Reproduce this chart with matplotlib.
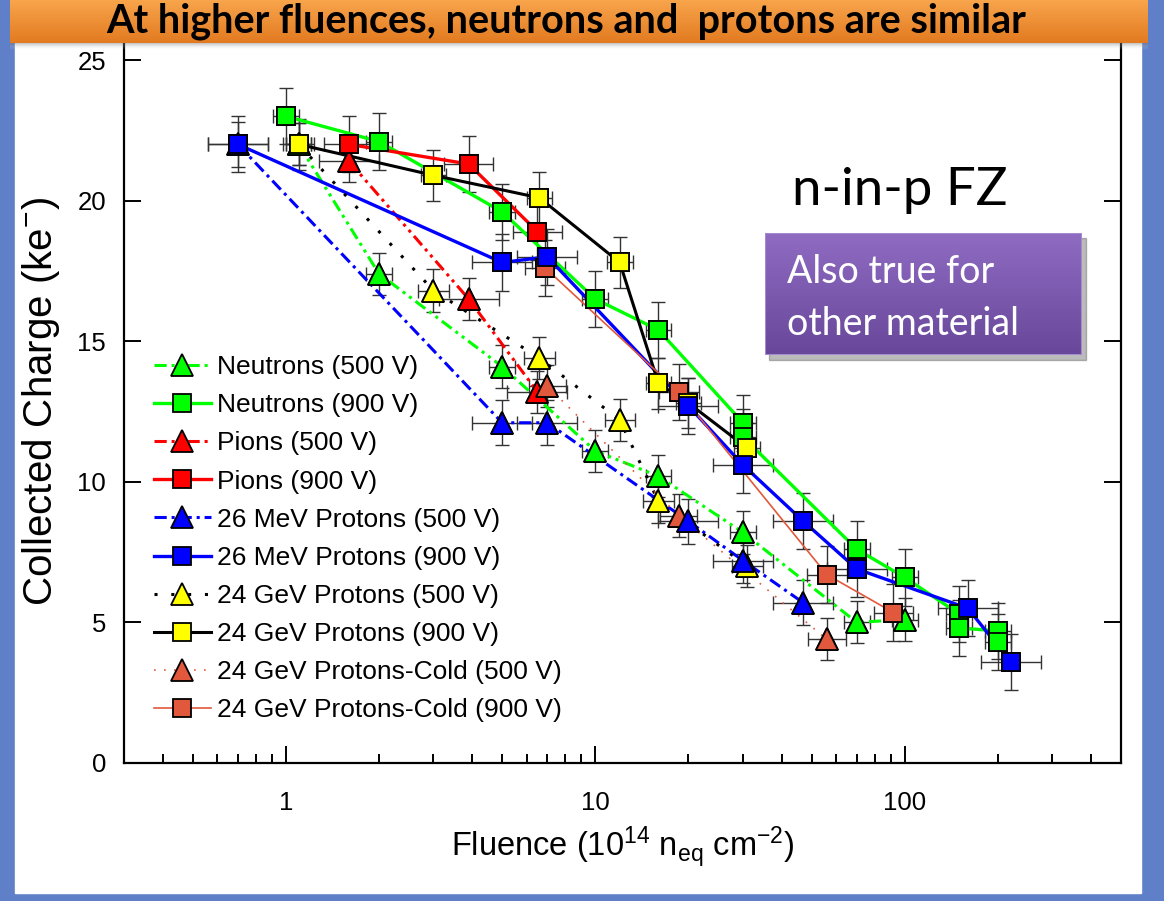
import numpy as np
import matplotlib.pyplot as plt
import matplotlib.colors as mcolors
from matplotlib.patches import Rectangle
from matplotlib.ticker import FuncFormatter, NullLocator

W, H = 1164, 901

plt.rcParams['font.family'] = ['Liberation Sans', 'DejaVu Sans']
plt.rcParams['mathtext.fontset'] = 'custom'
plt.rcParams['mathtext.rm'] = 'Liberation Sans'
plt.rcParams['mathtext.it'] = 'Liberation Sans:italic'
plt.rcParams['mathtext.bf'] = 'Liberation Sans:bold'

# values (fluence in 1e14 neq/cm2, charge in ke-)
neutron_500_x = [1.1, 2, 5, 10, 16, 30, 70, 100]
neutron_500_y = [22.0, 17.4, 14.1, 11.1, 10.2, 8.2, 5.0, 5.1]
neutron_900_x = [1, 2, 5, 10, 16, 30, 30, 70, 100, 150, 150, 200, 200]
neutron_900_y = [23.0, 22.1, 19.6, 16.5, 15.4, 12.1, 11.6, 7.6, 6.6, 5.3, 4.8, 4.7, 4.3]
pion_500_x = [1.6, 3.9, 6.5]
pion_500_y = [21.4, 16.5, 13.2]
pion_900_x = [1.6, 3.9, 6.5]
pion_900_y = [22.0, 21.3, 18.9]
p26_500_x = [0.7, 5, 7, 20, 30, 47]
p26_500_y = [22.0, 12.1, 12.1, 8.6, 7.2, 5.7]
p26_900_x = [0.7, 5, 7, 20, 30, 47, 70, 160, 220]
p26_900_y = [22.0, 17.8, 18.0, 12.7, 10.6, 8.6, 6.9, 5.5, 3.6]
p24_500_x = [1.1, 3, 6.6, 12, 16, 31]
p24_500_y = [22.0, 16.8, 14.4, 12.2, 9.3, 7.0]
p24_900_x = [1.1, 3, 6.6, 12, 16, 20, 31]
p24_900_y = [22.0, 20.9, 20.1, 17.8, 13.5, 12.8, 11.2]
cold_500_x = [7, 18.6, 56]
cold_500_y = [13.4, 8.8, 4.4]
cold_900_x = [6.9, 18.6, 56, 92]
cold_900_y = [17.6, 13.2, 6.7, 5.35]

labels = ['Neutrons (500 V)', 'Neutrons (900 V)', 'Pions (500 V)', 'Pions (900 V)',
          '26 MeV Protons (500 V)', '26 MeV Protons (900 V)',
          '24 GeV Protons (500 V)', '24 GeV Protons (900 V)',
          '24 GeV Protons-Cold (500 V)', '24 GeV Protons-Cold (900 V)']
# fluence error as a factor, charge error in ke-
x_err_factor = [1.1, 1.1, 1.25, 1.2, 1.25, 1.25, 1.12, 1.1, 1.15, 1.16]
y_err = [0.75, 1.0, 0.75, 1.0, 0.8, 1.0, 0.75, 0.9, 0.75, 1.0]

tomato = '#E2583C'
dadd = (0, (4, 1.6, 1, 1.6, 1, 1.6))
dad = (0, (4, 1.6, 1, 1.6))
styles = [
    dict(color='#00FF00', marker='^', ls=dadd, lw=2.2, mfc='#00FF00'),
    dict(color='#00FF00', marker='s', ls='-', lw=2.4, mfc='#00FF00'),
    dict(color='#FF0000', marker='^', ls=dadd, lw=2.2, mfc='#FF0000'),
    dict(color='#FF0000', marker='s', ls='-', lw=2.4, mfc='#FF0000'),
    dict(color='#0000FF', marker='^', ls=dad, lw=2.2, mfc='#0000FF'),
    dict(color='#0000FF', marker='s', ls='-', lw=2.4, mfc='#0000FF'),
    dict(color='black', marker='^', ls=(0, (1, 4.5)), lw=2.2, mfc='#FFFF00'),
    dict(color='black', marker='s', ls='-', lw=2.2, mfc='#FFFF00'),
    dict(color=tomato, marker='^', ls=(0, (1, 5)), lw=1.2, mfc=tomato),
    dict(color=tomato, marker='s', ls='-', lw=1.2, mfc=tomato),
]
series = [(neutron_500_x, neutron_500_y), (neutron_900_x, neutron_900_y),
          (pion_500_x, pion_500_y), (pion_900_x, pion_900_y),
          (p26_500_x, p26_500_y), (p26_900_x, p26_900_y),
          (p24_500_x, p24_500_y), (p24_900_x, p24_900_y),
          (cold_500_x, cold_500_y), (cold_900_x, cold_900_y)]
marker_z = [5, 8, 6, 9, 7.5, 11, 4, 10, 6.5, 9.5]

fig = plt.figure(figsize=(W / 100, H / 100), dpi=100)
fig.patch.set_facecolor('#5F80C8')
fig.add_artist(Rectangle((15 / W, 1 - 893 / H), (1141 - 15) / W, (893 - 30) / H,
                         transform=fig.transFigure, color='white', zorder=-5))

ax = fig.add_axes([124 / W, 1 - 763 / H, (1121 - 124) / W, (763 - 40) / H])
ax.set_facecolor('white')

handles = []
for (x, y), st, lab, f, ye, mz in zip(series, styles, labels, x_err_factor, y_err, marker_z):
    x = np.array(x, dtype=float)
    y = np.array(y, dtype=float)
    ax.errorbar(x, y, xerr=[x - x / f, x * f - x], yerr=ye, fmt='none', ecolor='#333333',
                elinewidth=1.0, capsize=5, capthick=1.0, zorder=2)
    ms = 15.5 if st['marker'] == '^' else 12.5
    h, = ax.plot(x, y, color=st['color'], ls=st['ls'], lw=st['lw'], marker=st['marker'],
                 ms=ms, mfc=st['mfc'], mec='black', mew=1.3, label=lab, zorder=3)
    ax.plot(x, y, ls='none', marker=st['marker'], ms=ms, mfc=st['mfc'], mec='black',
            mew=1.3, zorder=mz)
    handles.append(h)

ax.set_xscale('log')
ax.set_xlim(0.3, 500)
ax.set_ylim(0, (763 - 40) / 28.12)
ax.set_yticks([0, 5, 10, 15, 20, 25])
ax.yaxis.set_minor_locator(NullLocator())
ax.xaxis.set_major_formatter(FuncFormatter(lambda v, p: f'{v:g}'))
ax.tick_params(which='major', direction='in', length=12, width=1.4, labelsize=18.5,
               right=True, top=False)
ax.tick_params(axis='x', which='minor', direction='in', length=6.5, width=1.4, top=False)
ax.tick_params(axis='x', which='major', pad=20)
ax.tick_params(axis='y', which='major', pad=13)
ax.spines['top'].set_visible(False)
for s in ['left', 'right', 'bottom']:
    ax.spines[s].set_linewidth(1.6)

ax.set_xlabel(r'Fluence (10$^{14}$ n$_{\mathrm{eq}}$ cm$^{\mathrm{-2}}$)', fontsize=23.5, labelpad=7)
ax.set_ylabel(r'Collected Charge (ke$^{\mathrm{-}}$)', fontsize=29, labelpad=11)

ax.legend(handles=handles, loc='upper left', bbox_to_anchor=(0.03, 0.564), frameon=False,
          fontsize=19, handlelength=2.15, handletextpad=0.25, labelspacing=0.535,
          borderpad=0, borderaxespad=0)


def grad_axes(x0, y0, x1, y1, top, bottom, z):
    a = fig.add_axes([x0 / W, 1 - y1 / H, (x1 - x0) / W, (y1 - y0) / H], zorder=z)
    c0 = np.array(mcolors.to_rgba(top))
    c1 = np.array(mcolors.to_rgba(bottom))
    t = np.linspace(0, 1, 64)[:, None]
    a.imshow((c0 * (1 - t) + c1 * t)[:, None, :], aspect='auto', extent=[0, 1, 0, 1])
    a.set_axis_off()
    return a


# title banner
grad_axes(10, 43, 1148, 50, (0.45, 0.45, 0.45, 0.45), (1, 1, 1, 0), 9)
grad_axes(10, 0, 1148, 43, '#F8A54C', '#E27A20', 10)
fig.text(566 / W, 1 - 32 / H, 'At higher fluences, neutrons and  protons are similar',
         ha='center', va='baseline', fontsize=28.5, fontweight='bold',
         family=['Lato', 'DejaVu Sans'], color='black', zorder=12)

fig.text(900 / W, 1 - 205 / H, 'n-in-p FZ', ha='center', va='baseline', fontsize=38,
         family=['Lato', 'DejaVu Sans'], color='black', zorder=12)

# purple note box
fig.add_artist(Rectangle((769 / W, 1 - 360 / H), (1082 - 765) / W, (355 - 233) / H,
                         transform=fig.transFigure, color='#555555', alpha=0.4, zorder=10))
box = grad_axes(765, 233, 1082, 355, '#8F6CC2', '#68479A', 11)
box.add_patch(Rectangle((0, 0), 1, 1, transform=box.transAxes, fill=False,
                        ec='#A58AD0', lw=1.5))
fig.text(787 / W, 1 - 283 / H, 'Also true for', ha='left', va='baseline', fontsize=27,
         family=['Lato', 'DejaVu Sans'], color='white', zorder=12)
fig.text(787 / W, 1 - 335 / H, 'other material', ha='left', va='baseline', fontsize=27,
         family=['Lato', 'DejaVu Sans'], color='white', zorder=12)

fig.savefig('out.png', dpi=100, facecolor=fig.get_facecolor())
